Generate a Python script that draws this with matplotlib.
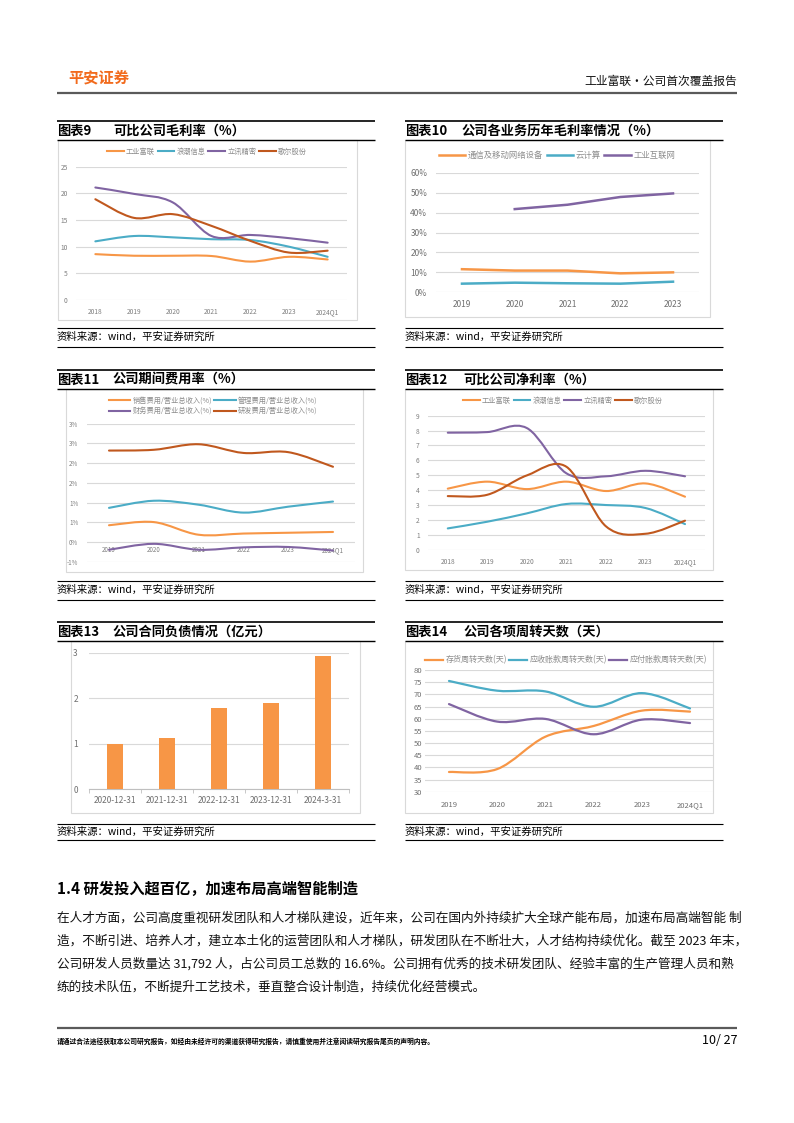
import numpy as np
import matplotlib
matplotlib.use("Agg")
import matplotlib.pyplot as plt
from matplotlib.lines import Line2D
from matplotlib.patches import Rectangle, PathPatch
from matplotlib.path import Path

plt.rcParams['font.family'] = ['Noto Sans CJK SC', 'DejaVu Sans']

# ---------------- data ----------------
years_7 = ['2018', '2019', '2020', '2021', '2022', '2023', '2024Q1']
companies = ['工业富联', '浪潮信息', '立讯精密', '歌尔股份']

gm_fii = [8.6, 8.3, 8.3, 8.25, 7.2, 8.1, 7.6]
gm_inspur = [11.0, 12.0, 11.75, 11.4, 11.25, 10.0, 8.1]
gm_luxshare = [21.1, 19.9, 18.3, 12.0, 12.2, 11.6, 10.75]
gm_goertek = [18.9, 15.4, 16.1, 13.9, 11.1, 8.9, 9.25]

years_5 = ['2019', '2020', '2021', '2022', '2023']
biz_names = ['通信及移动网络设备', '云计算', '工业互联网']
biz_comm = [11.5, 10.8, 10.8, 9.4, 9.9]
biz_cloud = [4.2, 4.7, 4.4, 4.2, 5.2]
biz_iiot = [np.nan, 41.8, 44.0, 47.9, 49.7]
biz_ticks = [0, 10, 20, 30, 40, 50, 60]
biz_ticklabels = ['0%', '10%', '20%', '30%', '40%', '50%', '60%']

years_6 = ['2019', '2020', '2021', '2022', '2023', '2024Q1']
exp_names = ['销售费用/营业总收入(%)', '管理费用/营业总收入(%)',
             '财务费用/营业总收入(%)', '研发费用/营业总收入(%)']
exp_sales = [0.43, 0.51, 0.19, 0.22, 0.24, 0.26]
exp_admin = [0.87, 1.05, 0.95, 0.75, 0.90, 1.03]
exp_fin = [-0.19, -0.04, -0.19, -0.13, -0.12, -0.21]
exp_rd = [2.32, 2.34, 2.48, 2.26, 2.28, 1.91]
exp_ticks = [-0.5, 0, 0.5, 1.0, 1.5, 2.0, 2.5, 3.0]
exp_ticklabels = ['-1%', '0%', '1%', '1%', '2%', '2%', '3%', '3%']

nm_fii = [4.1, 4.57, 4.07, 4.57, 3.94, 4.45, 3.56]
nm_inspur = [1.43, 1.88, 2.44, 3.07, 3.0, 2.8, 1.72]
nm_luxshare = [7.86, 7.9, 8.17, 5.13, 4.93, 5.3, 4.93]
nm_goertek = [3.6, 3.69, 4.99, 5.57, 1.57, 1.07, 1.95]

cl_dates = ['2020-12-31', '2021-12-31', '2022-12-31', '2023-12-31', '2024-3-31']
cl_values = [0.99, 1.13, 1.78, 1.90, 2.93]

turn_names = ['存货周转天数(天)', '应收账款周转天数(天)', '应付账款周转天数(天)']
turn_inv = [38.1, 39.3, 52.6, 57.0, 63.3, 62.9]
turn_ar = [75.5, 71.5, 71.2, 64.9, 70.5, 64.2]
turn_ap = [66.0, 58.8, 59.9, 53.6, 59.6, 58.2]

# ---------------- styles ----------------
ORANGE = '#F79646'
BLUE = '#4BACC6'
PURPLE = '#8064A2'
BROWN = '#C0581E'
GRID = '#D9D9D9'
TICK = '#7F7F7F'
BOXC = '#D9D9D9'

W, H = 794, 1123
fig = plt.figure(figsize=(W / 100, H / 100), dpi=100)


def fx(x):
    return x / W


def fy(y):
    return 1 - y / H


def hline(x0, x1, y, color='black', lw=1.0):
    fig.add_artist(Line2D([fx(x0), fx(x1)], [fy(y), fy(y)], transform=fig.transFigure,
                          color=color, lw=lw, solid_capstyle='butt'))


def box(x0, y0, x1, y1):
    fig.add_artist(Rectangle((fx(x0), fy(y1)), (x1 - x0) / W, (y1 - y0) / H,
                             transform=fig.transFigure, fill=False, ec=BOXC, lw=0.8))


def add_axes(x0, y0, x1, y1):
    ax = fig.add_axes([fx(x0), fy(y1), (x1 - x0) / W, (y1 - y0) / H])
    ax.set_facecolor('none')
    for s in ax.spines.values():
        s.set_visible(False)
    ax.grid(axis='y', color=GRID, lw=0.8)
    ax.set_axisbelow(True)
    ax.tick_params(length=0)
    return ax


def smooth(ax, xs, ys, color, lw=1.6):
    x = np.asarray(xs, float)
    y = np.asarray(ys, float)
    n = len(x)
    verts = [(x[0], y[0])]
    codes = [Path.MOVETO]
    for i in range(n - 1):
        xm = x[i - 1] if i > 0 else x[i]
        ym = y[i - 1] if i > 0 else y[i]
        xp = x[i + 2] if i + 2 < n else x[i + 1]
        yp = y[i + 2] if i + 2 < n else y[i + 1]
        c1 = (x[i] + (x[i + 1] - xm) / 6, y[i] + (y[i + 1] - ym) / 6)
        c2 = (x[i + 1] - (xp - x[i]) / 6, y[i + 1] - (yp - y[i]) / 6)
        verts += [c1, c2, (x[i + 1], y[i + 1])]
        codes += [Path.CURVE4] * 3
    ax.add_patch(PathPatch(Path(verts, codes), fill=False, ec=color, lw=lw,
                           capstyle='round', joinstyle='round'))


def frame(x0, x1, top, title_no, title, title_x, rule2, src_rule, src_y, bottom_rule):
    hline(x0, x1, top, 'black', 1.2)
    fig.text(fx(x0), fy(top + 10), title_no, fontsize=9.5, fontweight='bold', va='center')
    fig.text(fx(title_x), fy(top + 10), title, fontsize=9.5, fontweight='bold', va='center')
    hline(x0, x1, rule2, 'black', 1.0)
    hline(x0, x1, src_rule, 'black', 0.8)
    fig.text(fx(x0), fy(src_y), '资料来源：wind，平安证券研究所', fontsize=7.5, va='center')
    hline(x0, x1, bottom_rule, 'black', 0.8)


def legend(ax, handles, labels, cx, cy, ncol, fs, hl=2.5, cs=0.5, color='#8C8C8C'):
    ax.legend(handles, labels, loc='center', bbox_to_anchor=(fx(cx), fy(cy)),
              bbox_transform=fig.transFigure, ncol=ncol, frameon=False, fontsize=fs,
              handlelength=hl, handletextpad=0.3, columnspacing=cs, labelcolor=color,
              borderpad=0, labelspacing=0.3)


# ---------------- header ----------------
fig.text(fx(68), fy(77), '平安证券', fontsize=11, fontweight='bold', color='#F26B1D', va='center')
fig.text(fx(737), fy(81), '工业富联·公司首次覆盖报告', fontsize=8.5, color='#111111',
         ha='right', va='center', fontweight='medium')
hline(57, 737, 93, '#5A5A5A', 1.6)

# ---------------- chart 9 ----------------
frame(57, 375, 121, '图表9', '可比公司毛利率（%）', 113, 140, 328, 337, 347)
box(58, 140, 357, 320)
ax = add_axes(76, 166.7, 347, 300)
x7 = np.arange(len(years_7))
for vals, c in zip([gm_fii, gm_inspur, gm_luxshare, gm_goertek], [ORANGE, BLUE, PURPLE, BROWN]):
    smooth(ax, x7, vals, c, 1.5)
ax.set_xlim(-0.5, 6.5)
ax.set_ylim(0, 25)
ax.set_yticks([0, 5, 10, 15, 20, 25])
ax.set_xticks(x7, years_7)
ax.tick_params(labelsize=4.8, labelcolor=TICK, pad=6)
h = [Line2D([], [], color=c, lw=1.5) for c in [ORANGE, BLUE, PURPLE, BROWN]]
legend(ax, h, companies, 207, 152, 4, 5.2, hl=2.3, cs=0.4)

# ---------------- chart 10 ----------------
frame(405, 723, 121, '图表10', '公司各业务历年毛利率情况（%）', 462, 140, 328, 337, 347)
box(405, 140, 710, 317)
ax = add_axes(435.6, 173, 699.4, 292)
x5 = np.arange(len(years_5))
for vals, c in zip([biz_comm, biz_cloud, biz_iiot], [ORANGE, BLUE, PURPLE]):
    ax.plot(x5, vals, color=c, lw=1.8)
ax.set_xlim(-0.5, 4.5)
ax.set_ylim(0, 60)
ax.set_yticks(biz_ticks, biz_ticklabels)
ax.set_xticks(x5, years_5)
ax.tick_params(labelsize=6, labelcolor='#6F6F6F', pad=6)
h = [Line2D([], [], color=c, lw=1.8) for c in [ORANGE, BLUE, PURPLE]]
legend(ax, h, biz_names, 557, 155, 3, 6, hl=3.2, cs=0.4)

# ---------------- chart 11 ----------------
frame(57, 375, 369.5, '图表11', '公司期间费用率（%）', 113, 388.5, 581, 590, 600)
box(66, 388.5, 363, 572)
ax = add_axes(86.6, 423.7, 355.4, 562)
x6 = np.arange(len(years_6))
exp_colors = [ORANGE, BLUE, PURPLE, BROWN]
for vals, c in zip([exp_sales, exp_admin, exp_fin, exp_rd], exp_colors):
    smooth(ax, x6, vals, c, 1.5)
ax.set_xlim(-0.5, 5.5)
ax.set_ylim(-0.5, 3.0)
ax.set_yticks(exp_ticks, exp_ticklabels)
ax.set_xticks(x6, years_6)
ax.spines['bottom'].set_position(('data', 0))
ax.tick_params(labelsize=4.5, labelcolor=TICK)
ax.tick_params(axis='x', pad=3)
ax.tick_params(axis='y', pad=6)
h = [Line2D([], [], color=c, lw=1.5) for c in exp_colors]
order = [0, 2, 1, 3]  # legend fills column-wise; rows read 销售/管理, 财务/研发
legend(ax, [h[i] for i in order], [exp_names[i] for i in order], 213, 406, 2, 5.2, hl=3.0, cs=0.3)

# ---------------- chart 12 ----------------
frame(405, 723, 369.5, '图表12', '可比公司净利率（%）', 463, 388.5, 581, 590, 600)
box(405, 388.5, 713, 570)
ax = add_axes(428, 415.7, 704.8, 549.7)
for vals, c in zip([nm_fii, nm_inspur, nm_luxshare, nm_goertek], [ORANGE, BLUE, PURPLE, BROWN]):
    smooth(ax, x7, vals, c, 1.5)
ax.set_xlim(-0.5, 6.5)
ax.set_ylim(0, 9)
ax.set_yticks(range(0, 10))
ax.set_xticks(x7, years_7)
ax.tick_params(labelsize=4.8, labelcolor=TICK, pad=6)
h = [Line2D([], [], color=c, lw=1.5) for c in [ORANGE, BLUE, PURPLE, BROWN]]
legend(ax, h, companies, 563, 401, 4, 5.2, hl=2.3, cs=0.4)

# ---------------- chart 13 ----------------
frame(57, 375, 622, '图表13', '公司合同负债情况（亿元）', 113, 641, 824, 832, 840)
box(70.7, 641, 360, 813)
ax = add_axes(89, 652.7, 349, 789.3)
xb = np.arange(len(cl_dates))
ax.bar(xb, cl_values, width=0.32, color=ORANGE, zorder=3)
ax.set_xlim(-0.5, 4.5)
ax.set_ylim(0, 3)
ax.set_yticks([0, 1, 2, 3])
ax.set_xticks(xb, cl_dates)
ax.set_xticks(np.arange(-0.5, 5.0, 1.0), minor=True)
ax.spines['bottom'].set_visible(True)
ax.spines['bottom'].set_color('#BFBFBF')
ax.spines['bottom'].set_linewidth(0.8)
ax.tick_params(axis='x', which='minor', length=3, color='#BFBFBF', direction='out')
ax.tick_params(labelsize=6, labelcolor='#6F6F6F', pad=5)
ax.tick_params(axis='y', pad=8)

# ---------------- chart 14 ----------------
frame(405, 723, 622, '图表14', '公司各项周转天数（天）', 463, 641, 824, 832, 840)
box(405, 641, 713, 813)
ax = add_axes(424.9, 670, 714.1, 791.7)
for vals, c in zip([turn_inv, turn_ar, turn_ap], [ORANGE, BLUE, PURPLE]):
    smooth(ax, x6, vals, c, 1.6)
ax.set_xlim(-0.5, 5.5)
ax.set_ylim(30, 80)
ax.set_yticks(range(30, 85, 5))
ax.set_xticks(x6, years_6)
ax.tick_params(labelsize=5.5, labelcolor='#6F6F6F')
ax.tick_params(axis='x', pad=7)
ax.tick_params(axis='y', pad=2)
h = [Line2D([], [], color=c, lw=1.6) for c in [ORANGE, BLUE, PURPLE]]
legend(ax, h, turn_names, 566, 660, 3, 5.8, hl=2.2, cs=0.3)

# ---------------- body text ----------------
fig.text(fx(57), fy(889), '1.4 研发投入超百亿，加速布局高端智能制造', fontsize=11,
         fontweight='bold', va='center')
body = [
    '在人才方面，公司高度重视研发团队和人才梯队建设，近年来，公司在国内外持续扩大全球产能布局，加速布局高端智能 制',
    '造，不断引进、培养人才，建立本土化的运营团队和人才梯队，研发团队在不断壮大，人才结构持续优化。截至 2023 年末，',
    '公司研发人员数量达 31,792 人，占公司员工总数的 16.6%。公司拥有优秀的技术研发团队、经验丰富的生产管理人员和熟',
    '练的技术队伍，不断提升工艺技术，垂直整合设计制造，持续优化经营模式。',
]
for i, line in enumerate(body):
    fig.text(fx(57), fy(918 + i * 23), line, fontsize=9.1, va='center', color='#111111')

# ---------------- footer ----------------
hline(57, 737, 1028, '#5A5A5A', 1.6)
fig.text(fx(57), fy(1041), '请通过合法途径获取本公司研究报告，如经由未经许可的渠道获得研究报告，请慎重使用并注意阅读研究报告尾页的声明内容。',
         fontsize=4.9, va='center', fontweight='bold')
fig.text(fx(737), fy(1041), '10/ 27', fontsize=9, ha='right', va='center')

fig.savefig('out.png', dpi=100)
